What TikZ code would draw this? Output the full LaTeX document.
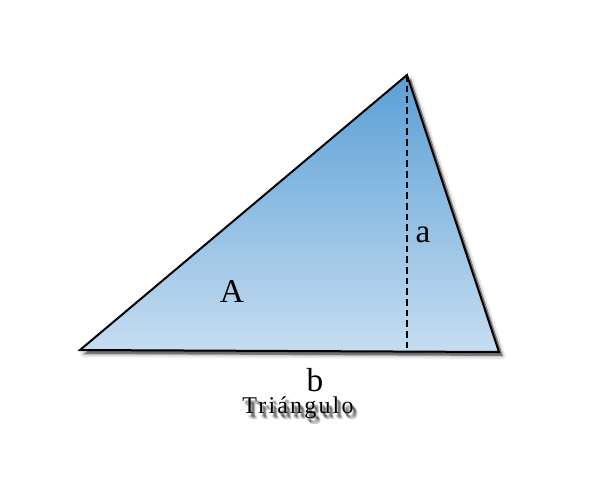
\documentclass[tikz,border=0pt]{standalone}
\usepackage{fontspec}
\setmainfont{Liberation Serif}
\usetikzlibrary{shadows.blur}
\definecolor{topblue}{HTML}{5AA0D6}
\definecolor{botblue}{HTML}{C6DDF0}
\tikzset{
  lbl/.style={font=\fontsize{25}{27}\selectfont, inner sep=0pt},
  ttl/.style={font=\fontsize{18}{19}\selectfont\addfontfeature{LetterSpace=9}, inner sep=0pt},
  ttlsh/.style={ttl, text=black, opacity=0.12},
}
\begin{document}
\begin{tikzpicture}[x=0.75pt,y=-0.75pt]
\useasboundingbox (0,0) rectangle (600,500);
\coordinate (L) at (80,350);
\coordinate (T) at (407,75);
\coordinate (R) at (499,352);
\coordinate (F) at (407,350);
\fill[black,opacity=0.35] ([shift={(4,4)}]L) -- ([shift={(4,4)}]T) -- ([shift={(4,4)}]R) -- cycle;
\shade[top color=topblue, bottom color=botblue, draw=black, line width=1.5pt, line join=miter,
  blur shadow={shadow xshift=2.5pt, shadow yshift=-3pt, shadow blur radius=3pt, shadow opacity=45}]
  (L) -- (T) -- (R) -- cycle;
\draw[dashed, line width=1.2pt, dash pattern=on 5pt off 3pt] (T) -- (F);
\node[lbl] (a) at (423,235) {a};
\node[lbl] (A) at (232,291) {A};
\node[lbl] (b) at (315,380) {b};
\foreach \dx/\dy in {2/3,3/4,4/5,3/5,4/4,2/4,5/6,3/3,4/6}{
  \node[ttlsh] at (298+\dx,408+\dy) {Triángulo};
}
\node[ttl] (t) at (298,408) {Triángulo};
\end{tikzpicture}
\end{document}
